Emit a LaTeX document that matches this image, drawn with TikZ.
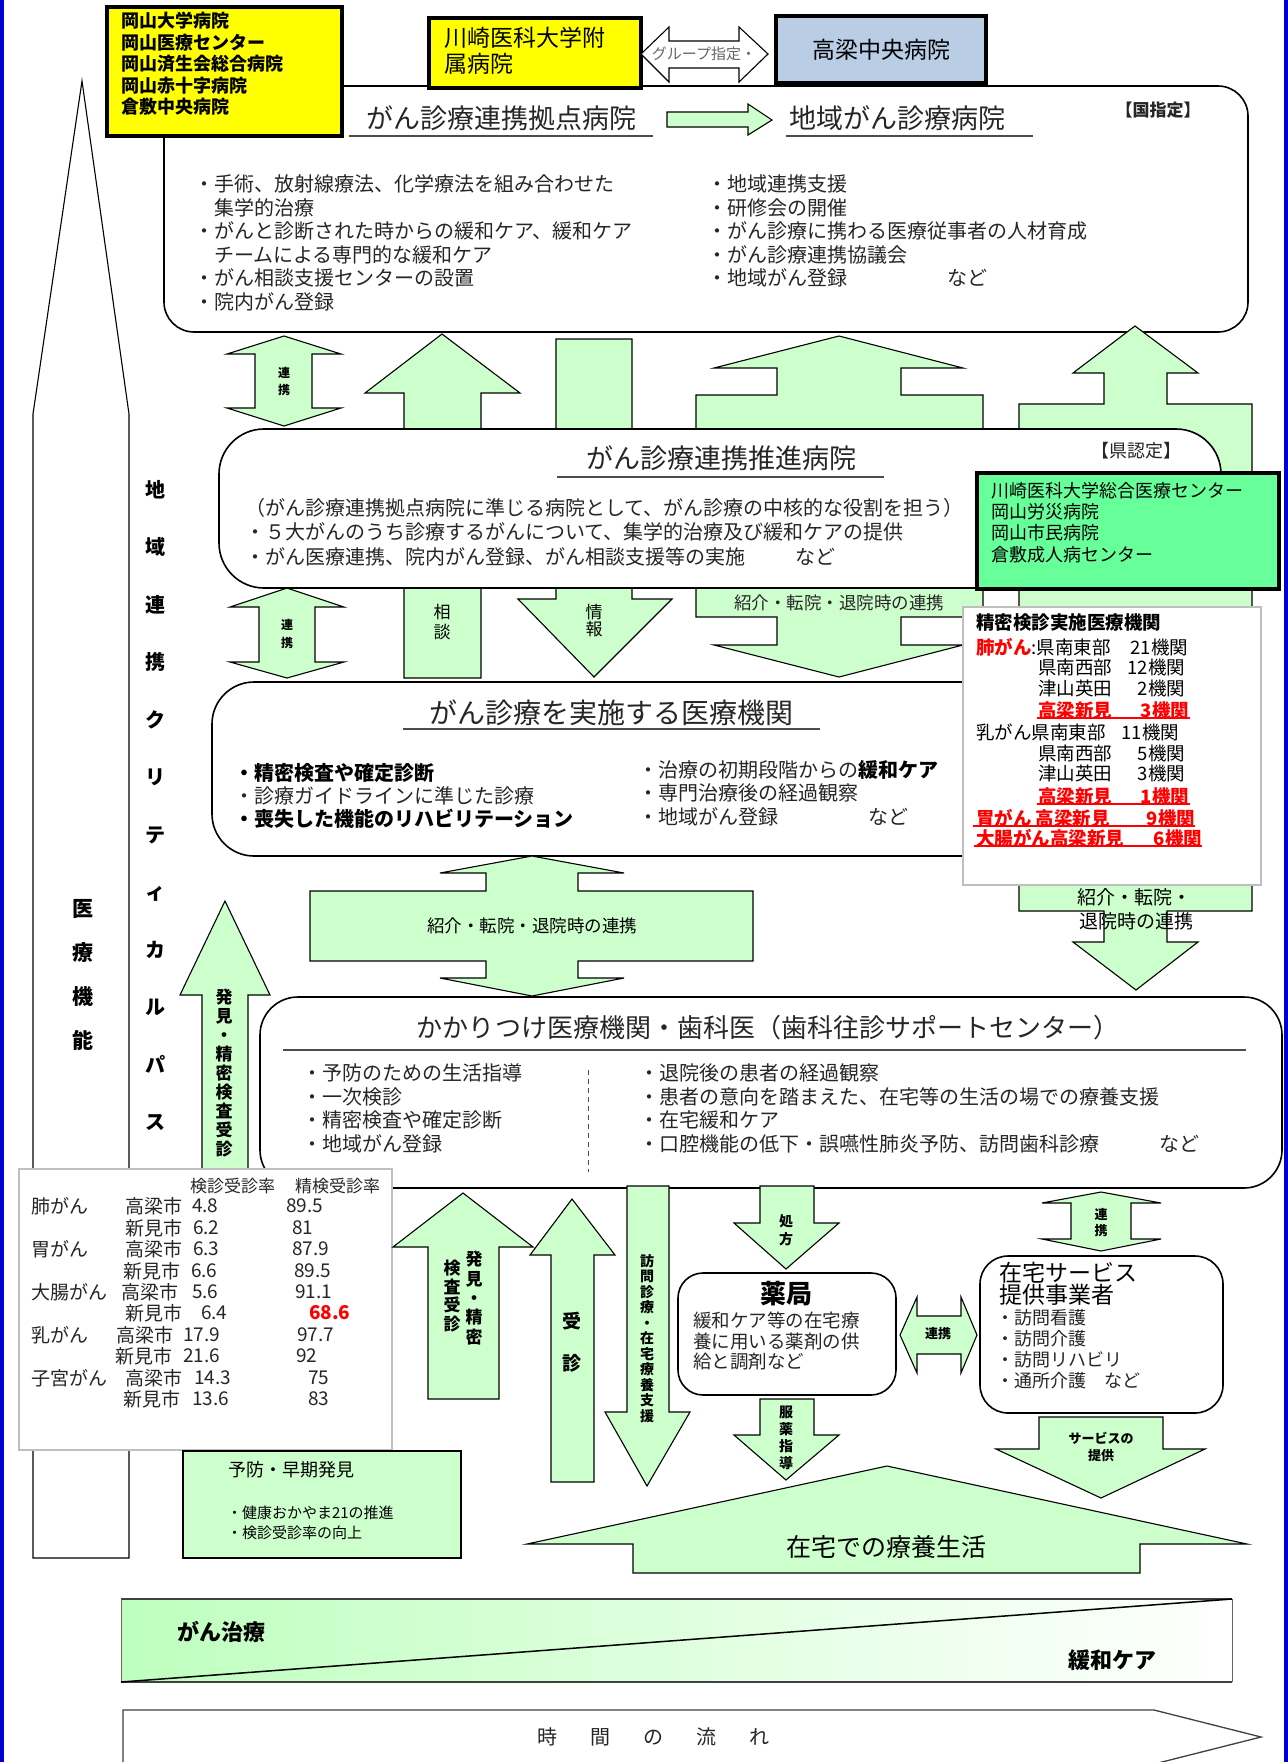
\documentclass[tikz,border=0pt]{standalone}
\usepackage{fontspec}
\setmainfont{Noto Sans CJK JP}
\definecolor{lg}{HTML}{CCFFCC}
\definecolor{ylw}{HTML}{FFFF00}
\definecolor{bgr}{HTML}{B9CDE5}
\definecolor{gbx}{HTML}{66FF99}
\definecolor{txtc}{HTML}{262626}
\definecolor{bord}{HTML}{0000CC}
\definecolor{gshade}{HTML}{BEFFBE}
\newcommand\fsz[1]{\fontsize{#1}{#1}\selectfont}
\newcommand\fszl[2]{\fontsize{#1}{#2}\selectfont}
\begin{document}
\begin{tikzpicture}[x=1pt,y=-1pt,
  ga/.style={fill=lg,draw=black,line width=1.1pt,line join=miter},
  wa/.style={fill=white,draw=black,line width=1.1pt,line join=miter},
  rb/.style={fill=white,draw=black,line width=1.6pt,rounded corners=#1},
  T/.style={inner sep=0pt,outer sep=0pt,anchor=west,text=txtc},
  C/.style={inner sep=0pt,outer sep=0pt,text=txtc},
  V/.style={inner sep=0pt,outer sep=0pt,align=center,text=black},
  ul/.style={draw=black!70,line width=1.6pt},
  rul/.style={draw=red,line width=2.2pt},
]
\useasboundingbox (0,0) rectangle (1288,1762);
\fill[white] (0,0) rectangle (1288,1762);
\fill[bord] (0,0) rectangle (4,1762);
\fill[bord] (1284,0) rectangle (1288,1762);

% left tall arrow
\draw[wa] (82,81) -- (129,414) -- (129,1558) -- (33,1558) -- (33,414) -- cycle;

% box1
\draw[rb=30] (164,86) rectangle (1248,332);

% arrows between box1, box2, box3
\draw[ga] (284,336) -- (341,354) -- (312,354) -- (312,408) -- (341,408) -- (284,426) -- (227,408) -- (255,408) -- (255,354) -- (227,354) -- cycle;
\draw[ga] (287,588) -- (344,607) -- (315,607) -- (315,662) -- (344,662) -- (287,678) -- (230,662) -- (259,662) -- (259,607) -- (230,607) -- cycle;
\draw[ga] (442,334) -- (520,393) -- (481,393) -- (481,678) -- (404,678) -- (404,393) -- (365,393) -- cycle;
\draw[ga] (556,339) -- (632,339) -- (632,599) -- (672,599) -- (594,677) -- (518,599) -- (556,599) -- cycle;
\draw[ga] (839,336) -- (963,368) -- (901,368) -- (901,395) -- (983,395) -- (983,617) -- (901,617) -- (901,645) -- (963,645) -- (839,677) -- (714,645) -- (777,645) -- (777,617) -- (696,617) -- (696,395) -- (777,395) -- (777,368) -- (714,368) -- cycle;
\draw[ga] (1135,326) -- (1198,373) -- (1167,373) -- (1167,404) -- (1252,404) -- (1252,911) -- (1167,911) -- (1167,942) -- (1198,942) -- (1136,990) -- (1073,942) -- (1104,942) -- (1104,911) -- (1019,911) -- (1019,404) -- (1104,404) -- (1104,373) -- (1073,373) -- cycle;

% box2, green box, box3, seimitsu box
\draw[rb=45] (219,429) rectangle (1221,588);
\draw[fill=gbx,draw=black,line width=3.5pt] (977,473) rectangle (1279,589);
\draw[rb=42] (212,682) rectangle (1010,856);
\draw[fill=white,draw=black!25,line width=1.5pt] (963,607) rectangle (1261,885);

% box4 and arrows below
\draw[ga] (225,901) -- (270,995) -- (248,995) -- (248,1452) -- (202,1452) -- (202,995) -- (180,995) -- cycle;
\draw[rb=38] (260,997) rectangle (1282,1188);
\draw[ga] (532,856) -- (624,873) -- (578,873) -- (578,891) -- (753,891) -- (753,961) -- (578,961) -- (578,978) -- (624,978) -- (532,996) -- (440,978) -- (486,978) -- (486,961) -- (310,961) -- (310,891) -- (486,891) -- (486,873) -- (440,873) -- cycle;
\draw[fill=white,draw=black!25,line width=1.5pt] (19,1169) rectangle (392,1450);
\draw[ga] (183,1451) rectangle (461,1558);
\draw[ga] (463,1193) -- (533,1247) -- (499,1247) -- (499,1399) -- (428,1399) -- (428,1247) -- (393,1247) -- cycle;
\draw[ga] (572,1199) -- (615,1255) -- (594,1255) -- (594,1482) -- (551,1482) -- (551,1255) -- (530,1255) -- cycle;
\draw[ga] (627,1186) -- (669,1186) -- (669,1412) -- (690,1412) -- (647,1486) -- (605,1412) -- (627,1412) -- cycle;
\draw[ga] (760,1186) -- (814,1186) -- (814,1223) -- (839,1223) -- (786,1269) -- (734,1223) -- (760,1223) -- cycle;
\draw[rb=25] (678,1273) rectangle (896,1395);
\draw[ga] (760,1399) -- (814,1399) -- (814,1435) -- (839,1435) -- (786,1480) -- (734,1435) -- (760,1435) -- cycle;
\draw[ga] (900,1335) -- (917,1297) -- (917,1316) -- (961,1316) -- (961,1297) -- (977,1335) -- (961,1373) -- (961,1354) -- (917,1354) -- (917,1373) -- cycle;
\draw[ga] (1101,1192) -- (1161,1203) -- (1131,1203) -- (1131,1239) -- (1161,1239) -- (1101,1251) -- (1042,1239) -- (1071,1239) -- (1071,1203) -- (1042,1203) -- cycle;
\draw[rb=28] (980,1256) rectangle (1223,1413);
\draw[ga] (1039,1417) -- (1163,1417) -- (1163,1449) -- (1205,1449) -- (1101,1498) -- (996,1449) -- (1039,1449) -- cycle;
\draw[ga] (887,1466) -- (1247,1544) -- (1140,1544) -- (1140,1573) -- (633,1573) -- (633,1544) -- (527,1544) -- cycle;

% gradient band
\shade[left color=gshade, right color=white] (121,1599) rectangle (1232,1682);
\draw[black!75,line width=1.8pt] (121,1599) -- (1232,1599);
\draw[black!75,line width=1.8pt] (121,1682) -- (1232,1682);
\draw[black!60,line width=0.6pt] (121,1599) -- (121,1682);
\draw[black!60,line width=0.6pt] (1232,1599) -- (1232,1682);
\draw[black,line width=1.5pt] (121,1682) -- (1232,1599);

% time arrow
\draw[fill=white,draw=black!75,line width=1.3pt] (123,1710) -- (1154,1710) -- (1261,1737) -- (1154,1764) -- (123,1764) -- cycle;

% top boxes
\draw[fill=ylw,draw=black,line width=3.5pt] (107,7) rectangle (342,136);
\draw[fill=ylw,draw=black,line width=3.5pt] (429,18) rectangle (641,88);
\draw[fill=bgr,draw=black,line width=3.5pt] (776,16) rectangle (986,83);
\draw[wa] (641,54) -- (669,27) -- (669,41) -- (739,41) -- (739,27) -- (768,54) -- (739,82) -- (739,68) -- (669,68) -- (669,82) -- cycle;
\draw[ga] (667,112) -- (748,112) -- (748,104) -- (772,120) -- (748,135) -- (748,127) -- (667,127) -- cycle;

% ---------- texts ----------
\node[T,font=\bfseries\fszl{18}{21.5},align=left,text=black,anchor=north west] (yl1) at (121,12) {岡山大学病院\\岡山医療センター\\岡山済生会総合病院\\岡山赤十字病院\\倉敷中央病院};
\node[T,font=\fszl{23}{26},align=left,text=black,anchor=north west] (yl2) at (444,27) {川崎医科大学附\\属病院};
\node[C,font=\fsz{23},text=black] (tkh) at (881,50) {高梁中央病院};
\node[C,font=\fsz{15},text=black!60] (grp) at (704,54) {グループ指定・};

% box1
\node[C,font=\fsz{27}] (b1t) at (501,118) {がん診療連携拠点病院};
\draw[ul] (349,136) -- (653,136);
\node[C,font=\fsz{27}] (b1t2) at (897,118) {地域がん診療病院};
\draw[ul] (786,136) -- (1033,136);
\node[C,font=\bfseries\fsz{17}] (kuni) at (1158,110) {【国指定】};
\node[T,font=\fsz{20}] (k1) at (194,184) {・手術、放射線療法、化学療法を組み合わせた};
\node[T,font=\fsz{20}] (k2) at (194,208) {　集学的治療};
\node[T,font=\fsz{20}] (k3) at (194,231) {・がんと診断された時からの緩和ケア、緩和ケア};
\node[T,font=\fsz{20}] (k4) at (194,255) {　チームによる専門的な緩和ケア};
\node[T,font=\fsz{20}] (k5) at (194,278) {・がん相談支援センターの設置};
\node[T,font=\fsz{20}] (k6) at (194,302) {・院内がん登録};
\node[T,font=\fsz{20}] (r1) at (707,184) {・地域連携支援};
\node[T,font=\fsz{20}] (r2) at (707,208) {・研修会の開催};
\node[T,font=\fsz{20}] (r3) at (707,231) {・がん診療に携わる医療従事者の人材育成};
\node[T,font=\fsz{20}] (r4) at (707,255) {・がん診療連携協議会};
\node[T,font=\fsz{20}] (r5) at (707,278) {・地域がん登録　　　　　など};

% arrow labels 1-2-3
\node[V,font=\bfseries\fszl{12}{17}] (rk1) at (284,381.5) {連\\携};
\node[V,font=\bfseries\fszl{12}{18}] (rk2) at (287,634) {連\\携};
\node[V,font=\fszl{17}{20}] (sd) at (442,622) {相\\談};
\node[V,font=\fszl{17}{17}] (jh) at (594,621) {情\\報};
\node[C,font=\fsz{17.5}] (sk1) at (839,603) {紹介・転院・退院時の連携};

% box2
\node[C,font=\fsz{27}] (b2t) at (721,458) {がん診療連携推進病院};
\draw[ul] (557,477) -- (884,477);
\node[C,font=\fsz{18}] (ken) at (1136,451) {【県認定】};
\node[T,font=\fsz{20}] (s1) at (245,508) {（がん診療連携拠点病院に準じる病院として、がん診療の中核的な役割を担う）};
\node[T,font=\fsz{20}] (s2) at (245,532) {・５大がんのうち診療するがんについて、集学的治療及び緩和ケアの提供};
\node[T,font=\fsz{20}] (s3) at (245,557) {・がん医療連携、院内がん登録、がん相談支援等の実施　　\hspace{10pt}など};
\node[T,font=\fszl{18}{21.3},align=left,text=black,anchor=north west] (gb) at (991,482) {川崎医科大学総合医療センター\\岡山労災病院\\岡山市民病院\\倉敷成人病センター};

% seimitsu box
\node[T,font=\bfseries\fsz{18.5},text=black] (p0) at (976,623) {精密検診実施医療機関};
\node[T,font=\fsz{18.5},text=black] (p1) at (976,647) {{\color{red}\bfseries 肺がん}:県南東部};
\node[T,font=\fsz{18.5},text=black,anchor=east] (p1n) at (1188,647) {21機関};
\node[T,font=\fsz{18.5},text=black] (p2) at (1038,667) {県南西部};
\node[T,font=\fsz{18.5},text=black,anchor=east] (p2n) at (1185,667) {12機関};
\node[T,font=\fsz{18.5},text=black] (p3) at (1038,688) {津山英田};
\node[T,font=\fsz{18.5},text=black,anchor=east] (p3n) at (1185,688) {2機関};
\node[T,font=\bfseries\fsz{18.5},text=red] (p4) at (1038,710) {高梁新見};
\node[T,font=\bfseries\fsz{18.5},text=red,anchor=east] (p4n) at (1189,710) {3機関};
\draw[rul] (1037,718) -- (1190,718);
\node[T,font=\fsz{18.5},text=black] (p5) at (976,732) {乳がん県南東部};
\node[T,font=\fsz{18.5},text=black,anchor=east] (p5n) at (1179,732) {11機関};
\node[T,font=\fsz{18.5},text=black] (p6) at (1038,753) {県南西部};
\node[T,font=\fsz{18.5},text=black,anchor=east] (p6n) at (1185,753) {5機関};
\node[T,font=\fsz{18.5},text=black] (p7) at (1038,773) {津山英田};
\node[T,font=\fsz{18.5},text=black,anchor=east] (p7n) at (1185,773) {3機関};
\node[T,font=\bfseries\fsz{18.5},text=red] (p8) at (1038,796) {高梁新見};
\node[T,font=\bfseries\fsz{18.5},text=red,anchor=east] (p8n) at (1189,796) {1機関};
\draw[rul] (1037,804) -- (1190,804);
\node[T,font=\bfseries\fsz{18.5},text=red] (p9) at (976,818) {胃がん 高梁新見};
\node[T,font=\bfseries\fsz{18.5},text=red,anchor=east] (p9n) at (1195,818) {9機関};
\draw[rul] (973,826) -- (1195,826);
\node[T,font=\bfseries\fsz{18.5},text=red] (p10) at (976,838) {大腸がん高梁新見};
\node[T,font=\bfseries\fsz{18.5},text=red,anchor=east] (p10n) at (1202,838) {6機関};
\draw[rul] (974,846) -- (1202,846);

% box3
\node[C,font=\fsz{28}] (b3t) at (611,713) {がん診療を実施する医療機関};
\draw[ul] (403,729) -- (820,729);
\node[T,font=\bfseries\fsz{20},text=black] (m1) at (234,773) {・精密検査や確定診断};
\node[T,font=\fsz{20}] (m2) at (234,796) {・診療ガイドラインに準じた診療};
\node[T,font=\bfseries\fsz{20},text=black] (m3) at (234,819) {・喪失した機能のリハビリテーション};
\node[T,font=\fsz{20}] (m4) at (638,770) {・治療の初期段階からの{\bfseries\color{black}緩和ケア}};
\node[T,font=\fsz{20}] (m5) at (638,793) {・専門治療後の経過観察};
\node[T,font=\fsz{20}] (m6) at (638,817) {・地域がん登録　　　　\hspace{10pt}など};

% right arrow label
\node[C,font=\fsz{19},text=black] (sk3a) at (1134,897) {紹介・転院・};
\node[C,font=\fsz{19},text=black] (sk3b) at (1136,921) {退院時の連携};
\node[C,font=\fsz{17.5},text=black] (sk2) at (532,926) {紹介・転院・退院時の連携};

% left column texts
\node[V,font=\bfseries\fszl{21}{44}] (iryo) at (83,975) {医\\療\\機\\能};
\node[V,font=\bfseries\fszl{20}{57.5}] (path) at (155,805.5) {地\\域\\連\\携\\ク\\リ\\テ\\ィ\\カ\\ル\\パ\\ス};
\node[V,font=\bfseries\fszl{17}{19}] (hk1) at (224,1073) {発\\見\\・\\精\\密\\検\\査\\受\\診};

% box4
\node[C,font=\fsz{26}] (b4t) at (768,1028) {かかりつけ医療機関・歯科医（歯科往診サポートセンター）};
\draw[ul] (283,1050) -- (1246,1050);
\node[T,font=\fsz{20}] (h1) at (302,1073) {・予防のための生活指導};
\node[T,font=\fsz{20}] (h2) at (302,1097) {・一次検診};
\node[T,font=\fsz{20}] (h3) at (302,1120) {・精密検査や確定診断};
\node[T,font=\fsz{20}] (h4) at (302,1144) {・地域がん登録};
\draw[black!70,line width=1pt,dash pattern=on 5pt off 4pt] (588,1070) -- (588,1172);
\node[T,font=\fsz{20}] (h5) at (639,1073) {・退院後の患者の経過観察};
\node[T,font=\fsz{20}] (h6) at (639,1097) {・患者の意向を踏まえた、在宅等の生活の場での療養支援};
\node[T,font=\fsz{20}] (h7) at (639,1120) {・在宅緩和ケア};
\node[T,font=\fsz{20}] (h8) at (639,1144) {・口腔機能の低下・誤嚥性肺炎予防、訪問歯科診療　　　など};

% table
\node[T,font=\fsz{17}] (th1) at (190,1186) {検診受診率};
\node[T,font=\fsz{17}] (th2) at (295,1186) {精検受診率};
\node[T,font=\fsz{19}] (ta1) at (31,1206) {肺がん};
\node[T,font=\fsz{19}] (tb1) at (125,1206) {高梁市};
\node[T,font=\fsz{19}] (tc1) at (192,1206) {4.8};
\node[T,font=\fsz{19}] (td1) at (286,1206) {89.5};
\node[T,font=\fsz{19}] (tb2) at (125,1228) {新見市};
\node[T,font=\fsz{19}] (tc2) at (193,1228) {6.2};
\node[T,font=\fsz{19}] (td2) at (292,1228) {81};
\node[T,font=\fsz{19}] (ta3) at (31,1249) {胃がん};
\node[T,font=\fsz{19}] (tb3) at (125,1249) {高梁市};
\node[T,font=\fsz{19}] (tc3) at (193,1249) {6.3};
\node[T,font=\fsz{19}] (td3) at (292,1249) {87.9};
\node[T,font=\fsz{19}] (tb4) at (123,1271) {新見市};
\node[T,font=\fsz{19}] (tc4) at (191,1271) {6.6};
\node[T,font=\fsz{19}] (td4) at (294,1271) {89.5};
\node[T,font=\fsz{19}] (ta5) at (31,1292) {大腸がん};
\node[T,font=\fsz{19}] (tb5) at (121,1292) {高梁市};
\node[T,font=\fsz{19}] (tc5) at (192,1292) {5.6};
\node[T,font=\fsz{19}] (td5) at (295,1292) {91.1};
\node[T,font=\fsz{19}] (tb6) at (125,1313) {新見市};
\node[T,font=\fsz{19}] (tc6) at (201,1313) {6.4};
\node[T,font=\bfseries\fsz{19},text=red] (td6) at (309,1313) {68.6};
\node[T,font=\fsz{19}] (ta7) at (31,1335) {乳がん};
\node[T,font=\fsz{19}] (tb7) at (116,1335) {高梁市};
\node[T,font=\fsz{19}] (tc7) at (183,1335) {17.9};
\node[T,font=\fsz{19}] (td7) at (297,1335) {97.7};
\node[T,font=\fsz{19}] (tb8) at (115,1356) {新見市};
\node[T,font=\fsz{19}] (tc8) at (183,1356) {21.6};
\node[T,font=\fsz{19}] (td8) at (296,1356) {92};
\node[T,font=\fsz{19}] (ta9) at (31,1378) {子宮がん};
\node[T,font=\fsz{19}] (tb9) at (125,1378) {高梁市};
\node[T,font=\fsz{19}] (tc9) at (194,1378) {14.3};
\node[T,font=\fsz{19}] (td9) at (308,1378) {75};
\node[T,font=\fsz{19}] (tb10) at (123,1399) {新見市};
\node[T,font=\fsz{19}] (tc10) at (192,1399) {13.6};
\node[T,font=\fsz{19}] (td10) at (308,1399) {83};

% yobou box
\node[T,font=\fsz{18},text=black] (yb1) at (228,1470) {予防・早期発見};
\node[T,font=\fsz{15},text=black] (yb2) at (227,1513) {・健康おかやま21の推進};
\node[T,font=\fsz{15},text=black] (yb3) at (227,1533) {・検診受診率の向上};

% lower arrow labels
\node[V,font=\bfseries\fszl{17}{19.3}] (hk2a) at (474,1298) {発\\見\\・\\精\\密};
\node[V,font=\bfseries\fszl{17}{18.5}] (hk2b) at (452,1296) {検\\査\\受\\診};
\node[V,font=\bfseries\fszl{19}{42}] (jus) at (572,1342) {受\\診};
\node[V,font=\bfseries\fszl{14}{15.5}] (hom) at (647,1338.5) {訪\\問\\診\\療\\・\\在\\宅\\療\\養\\支\\援};
\node[V,font=\bfseries\fszl{14}{18}] (shh) at (786,1230) {処\\方};
\node[V,font=\bfseries\fszl{14}{17}] (fyk) at (786,1437.5) {服\\薬\\指\\導};
\node[V,font=\bfseries\fszl{13}{16}] (rk3) at (1101,1223) {連\\携};
\node[C,font=\bfseries\fsz{13},text=black] (rk4) at (938,1334) {連携};
\node[V,font=\bfseries\fszl{13}{17}] (svc) at (1101,1446.5) {サービスの\\提供};

% pharmacy and home service
\node[C,font=\bfseries\fsz{26},text=black] (yk) at (786,1294) {薬局};
\node[T,font=\fszl{18.5}{20.5},align=left,anchor=north west] (ykt) at (693,1312) {緩和ケア等の在宅療\\養に用いる薬剤の供\\給と調剤など};
\node[T,font=\fszl{23}{22},align=left,text=black,anchor=north west] (zt) at (999,1262) {在宅サービス\\提供事業者};
\node[T,font=\fszl{18}{21},align=left,anchor=north west] (zti) at (996,1309) {・訪問看護\\・訪問介護\\・訪問リハビリ\\・通所介護　など};

\node[C,font=\fsz{25},text=black] (zr) at (886,1547) {在宅での療養生活};

% band texts
\node[T,font=\bfseries\fsz{22},text=black] (gc) at (177,1632) {がん治療};
\node[T,font=\bfseries\fsz{22},text=black] (kc) at (1068,1660) {緩和ケア};
\node[C,font=\fsz{20}] (jk) at (653,1737) {時\hspace{33pt}間\hspace{33pt}の\hspace{33pt}流\hspace{33pt}れ};
\end{tikzpicture}
\end{document}
